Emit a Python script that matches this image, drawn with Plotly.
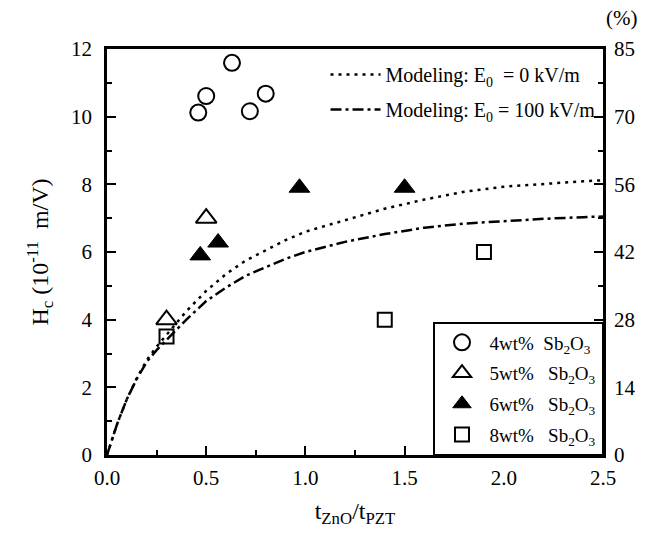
import plotly.graph_objects as go

# ---- data ----
curve_x = [0, 0.05, 0.1, 0.15, 0.2, 0.25, 0.3, 0.4, 0.5, 0.6, 0.7, 0.8, 0.9, 1.0,
           1.2, 1.4, 1.6, 1.8, 2.0, 2.2, 2.4, 2.5]
model_e0 = [0, 0.9, 1.65, 2.27, 2.8, 3.2, 3.55, 4.25, 4.85, 5.35, 5.75, 6.05, 6.35, 6.6,
            6.95, 7.28, 7.55, 7.78, 7.93, 8.02, 8.09, 8.12]
model_e100 = [0, 0.9, 1.65, 2.25, 2.75, 3.1, 3.4, 4.0, 4.55, 4.95, 5.3, 5.55, 5.8, 6.0,
              6.3, 6.53, 6.72, 6.84, 6.92, 6.98, 7.03, 7.05]

sb4_x = [0.46, 0.50, 0.63, 0.72, 0.80]
sb4_y = [10.12, 10.61, 11.59, 10.16, 10.68]
sb5_x = [0.30, 0.50]
sb5_y = [4.0, 7.0]
sb6_x = [0.47, 0.56, 0.97, 1.50]
sb6_y = [5.9, 6.28, 7.9, 7.9]
sb8_x = [0.30, 1.40, 1.90]
sb8_y = [3.5, 4.0, 6.0]

right_ticks = [0, 14, 28, 42, 56, 70, 85]
left_max = 12
right_max = 85

FONT = "Liberation Serif"

fig = go.Figure()

fig.add_trace(go.Scatter(x=curve_x, y=model_e0, mode="lines",
                         line=dict(color="black", width=2.5, dash="3px,5px"),
                         name="Modeling: E<sub>0</sub>  = 0 kV/m", legend="legend",
                         legendgroup="m1"))
fig.add_trace(go.Scatter(x=curve_x, y=model_e100, mode="lines",
                         line=dict(color="black", width=2.5, dash="11px,4px,3px,4px"),
                         name="Modeling: E<sub>0</sub> = 100 kV/m", legend="legend",
                         legendgroup="m2"))

fig.add_trace(go.Scatter(x=sb4_x, y=sb4_y, mode="markers",
                         marker=dict(symbol="circle-open", size=16, color="black",
                                     line=dict(width=2, color="black")),
                         name="4wt%\u00a0 Sb<sub>2</sub>O<sub>3</sub>", legend="legend2",
                         legendgroup="s4"))
fig.add_trace(go.Scatter(x=sb5_x, y=sb5_y, mode="markers",
                         marker=dict(symbol="triangle-up-open", size=18, color="black",
                                     line=dict(width=2, color="black")),
                         name="5wt%\u00a0\u00a0 Sb<sub>2</sub>O<sub>3</sub>", legend="legend2",
                         legendgroup="s5"))
fig.add_trace(go.Scatter(x=sb6_x, y=sb6_y, mode="markers",
                         marker=dict(symbol="triangle-up", size=18, color="black",
                                     line=dict(width=1, color="black")),
                         name="6wt%\u00a0\u00a0 Sb<sub>2</sub>O<sub>3</sub>", legend="legend2",
                         legendgroup="s6"))
fig.add_trace(go.Scatter(x=sb8_x, y=sb8_y, mode="markers",
                         marker=dict(symbol="square-open", size=14, color="black",
                                     line=dict(width=2, color="black")),
                         name="8wt%\u00a0\u00a0 Sb<sub>2</sub>O<sub>3</sub>", legend="legend2",
                         legendgroup="s8"))

# trace that binds the right-hand axis (no visible marks)
fig.add_trace(go.Scatter(x=[None], y=[None], yaxis="y2", showlegend=False,
                         hoverinfo="skip", mode="markers"))

scale = right_max / left_max
right_pos = [0, 2 * scale, 4 * scale, 6 * scale, 8 * scale, 10 * scale, 12 * scale]
right_minor = [(2 * i + 1) * scale for i in range(6)]

fig.update_layout(
    width=647, height=533,
    margin=dict(l=107, r=38, t=49, b=78),
    paper_bgcolor="white", plot_bgcolor="white",
    font=dict(family=FONT, color="black", size=20),
    xaxis=dict(range=[0, 2.5], dtick=0.5, tickformat=".1f",
               showline=True, linecolor="black", linewidth=2.5, mirror=True,
               ticks="inside", ticklen=9, tickwidth=2, tickcolor="black",
               minor=dict(dtick=0.25, ticks="inside", ticklen=5, tickwidth=2, tickcolor="black"),
               showgrid=False, zeroline=False, ticklabelstandoff=2,
               tickfont=dict(family=FONT, size=21),
               title=dict(text="t<sub>ZnO</sub>/t<sub>PZT</sub>", font=dict(family=FONT, size=24),
                          standoff=14)),
    yaxis=dict(range=[0, 12], dtick=2,
               showline=True, linecolor="black", linewidth=2.5,
               ticks="inside", ticklen=9, tickwidth=2, tickcolor="black",
               minor=dict(dtick=1, ticks="inside", ticklen=5, tickwidth=2, tickcolor="black"),
               showgrid=False, zeroline=False, ticklabelstandoff=8,
               tickfont=dict(family=FONT, size=21),
               title=dict(text="H<sub>c</sub> (10<sup>-11</sup>  m/V)", font=dict(family=FONT, size=24),
                          standoff=16)),
    yaxis2=dict(range=[0, right_max], overlaying="y", side="right",
                tickmode="array", tickvals=right_pos, ticktext=[str(t) for t in right_ticks],
                showline=True, linecolor="black", linewidth=2.5,
                ticks="inside", ticklen=9, tickwidth=2, tickcolor="black",
                minor=dict(tickmode="array", tickvals=right_minor, ticks="inside",
                           ticklen=5, tickwidth=2, tickcolor="black"),
                showgrid=False, zeroline=False, ticklabelstandoff=4,
                tickfont=dict(family=FONT, size=21)),
    legend=dict(x=0.995, y=0.985, xanchor="right", yanchor="top",
                bgcolor="rgba(0,0,0,0)", borderwidth=0,
                font=dict(family=FONT, size=20), itemwidth=50, tracegroupgap=6),
    legend2=dict(x=1.0, y=0.0, xanchor="right", yanchor="bottom",
                 bgcolor="white", bordercolor="black", borderwidth=1.5,
                 font=dict(family=FONT, size=19), itemwidth=45, tracegroupgap=3),
    annotations=[dict(text="(%)", xref="paper", yref="paper", x=1.072, y=1.076,
                      xanchor="right", yanchor="middle", showarrow=False,
                      font=dict(family=FONT, size=21))],
)

fig.write_html("out.html")
